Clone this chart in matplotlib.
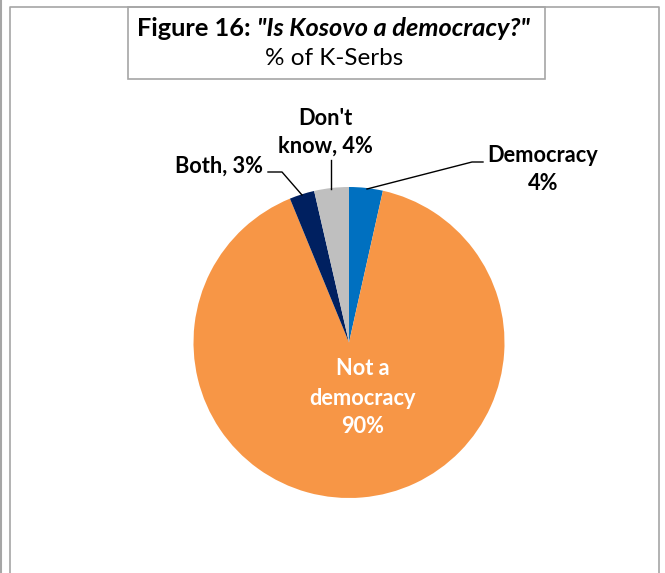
import matplotlib.pyplot as plt
from matplotlib.patches import Rectangle

# data (clockwise from 12 o'clock)
labels = ["Democracy", "Not a democracy", "Both", "Don't know"]
values = [3.5, 90.3, 2.6, 3.6]
colors = ["#0070C0", "#F79646", "#002060", "#BFBFBF"]
title = "Figure 16: "
title_q = "\"Is Kosovo a democracy?\""
subtitle = "% of K-Serbs"

W, H = 665, 573
plt.rcParams["font.family"] = ["Lato", "DejaVu Sans"]
GRAY = "#A6A6A6"

fig = plt.figure(figsize=(W / 100, H / 100), dpi=100)

# pie
cx, cy, r = 349, 342.5, 155.5
ax = fig.add_axes([(cx - r) / W, 1 - (cy + r) / H, 2 * r / W, 2 * r / H])
ax.pie(values, colors=colors, startangle=90, counterclock=False, radius=1)
ax.set_xlim(-1, 1)
ax.set_ylim(-1, 1)
ax.axis("off")

# overlay axes in pixel units (y downwards) for frame, labels and leaders
bg = fig.add_axes([0, 0, 1, 1], zorder=3)
bg.set_xlim(0, W)
bg.set_ylim(H, 0)
bg.axis("off")

# page frame
bg.plot([1, 1], [0, H], color=GRAY, lw=1.5)
bg.plot([9.5, 9.5, 658.5, 658.5], [H, 7, 7, H], color=GRAY, lw=1.2)

# title box
bg.add_patch(Rectangle((128, 7), 545 - 128, 79 - 7, fill=False, edgecolor=GRAY, lw=1.2))
t1 = bg.text(137, 36, title, ha="left", va="baseline", fontsize=18.3, fontweight="bold")
bg.annotate(title_q, xy=(1, 0), xycoords=t1, ha="left", va="bottom",
            fontsize=18.3, fontweight="bold", style="italic")
bg.text(334, 65, subtitle, ha="center", va="baseline", fontsize=17.5)

pct = [f"{v:.0f}%" for v in values]
lab_kw = dict(fontsize=15.7, fontweight="bold", va="baseline")


def put_lines(x, baselines, texts, **kw):
    for yb, s in zip(baselines, texts):
        bg.text(x, yb, s, **kw)


# Democracy
put_lines(543, [162, 190], [labels[0], pct[0]], ha="center", color="black", **lab_kw)
bg.plot([367, 472, 483], [189, 162, 162], color="black", lw=1)

# Don't know
put_lines(325, [125, 153], ["Don't", f"know, {pct[3]}"], ha="center", color="black", **lab_kw)
bg.plot([331, 331], [160, 189], color="black", lw=1)

# Both
bg.text(263, 173, f"{labels[2]}, {pct[2]}", ha="right", color="black", **lab_kw)
bg.plot([268, 282, 302], [172, 172, 195], color="black", lw=1)

# Not a democracy
put_lines(362.5, [375, 405, 433], ["Not a", "democracy", pct[1]], ha="center",
          color="white", **lab_kw)

fig.savefig("out.png", dpi=100)
